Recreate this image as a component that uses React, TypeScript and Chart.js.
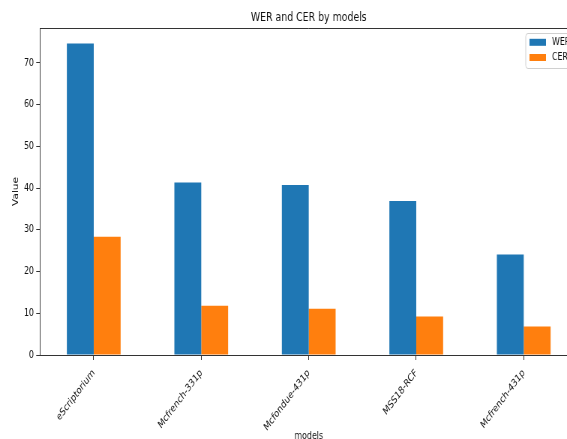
import React, { useEffect, useRef } from "react";
import { Chart, registerables } from "chart.js";

Chart.register(...registerables);

const categories = ["eScriptorium", "Mcfrench-331p", "Mcfondue-431p", "MSS18-RCF", "Mcfrench-431p"];
const werValues = [74.6, 41.3, 40.7, 36.9, 24.1];
const cerValues = [28.3, 11.8, 11.1, 9.2, 6.8];
const yTicks = [0, 10, 20, 30, 40, 50, 60, 70];
const yMax = 78.33;
const seriesNames = ["WER", "CER"];
const seriesColors = ["#1f77b4", "#ff7f0e"];
const titleText = "WER and CER by models";
const xLabel = "models";
const yLabel = "Value";

const SX = 0.75; // horizontal squash of the reference image
const W = 800;
const H = 439;
const FONT = '"DejaVu Sans", sans-serif';

const decorPlugin = {
  id: "decor",
  afterDraw(chart: any) {
    const { ctx, chartArea } = chart;
    const { left, right, top, bottom } = chartArea;
    ctx.save();
    ctx.strokeStyle = "#333";
    ctx.lineWidth = 1;
    ctx.beginPath();
    ctx.moveTo(left, top + 0.5);
    ctx.lineTo(right, top + 0.5);
    ctx.moveTo(right - 0.5, top);
    ctx.lineTo(right - 0.5, bottom);
    ctx.stroke();
    ctx.fillStyle = "#111";
    ctx.font = `12.5px ${FONT}`;
    ctx.textAlign = "center";
    ctx.textBaseline = "middle";
    ctx.fillText(titleText, (left + right) / 2, 18);
    ctx.font = `10.5px ${FONT}`;
    ctx.fillText(xLabel, (left + right) / 2, 436);
    ctx.save();
    ctx.translate(21, (top + bottom) / 2);
    ctx.rotate(-Math.PI / 2);
    ctx.fillText(yLabel, 0, 0);
    ctx.restore();
    const lx = 701;
    const ly = 33.5;
    const lw = 72;
    const lh = 35;
    const r = 3;
    ctx.beginPath();
    ctx.moveTo(lx + r, ly);
    ctx.lineTo(lx + lw - r, ly);
    ctx.quadraticCurveTo(lx + lw, ly, lx + lw, ly + r);
    ctx.lineTo(lx + lw, ly + lh - r);
    ctx.quadraticCurveTo(lx + lw, ly + lh, lx + lw - r, ly + lh);
    ctx.lineTo(lx + r, ly + lh);
    ctx.quadraticCurveTo(lx, ly + lh, lx, ly + lh - r);
    ctx.lineTo(lx, ly + r);
    ctx.quadraticCurveTo(lx, ly, lx + r, ly);
    ctx.closePath();
    ctx.fillStyle = "rgba(255,255,255,0.8)";
    ctx.fill();
    ctx.strokeStyle = "#d0d0d0";
    ctx.lineWidth = 1;
    ctx.stroke();
    const rows = [42.3, 57.5];
    seriesNames.forEach((name, i) => {
      ctx.fillStyle = seriesColors[i];
      ctx.fillRect(706, rows[i] - 3.5, 22, 7);
      ctx.fillStyle = "#111";
      ctx.font = `10.5px ${FONT}`;
      ctx.textAlign = "left";
      ctx.textBaseline = "middle";
      ctx.fillText(name, 736, rows[i]);
    });
    ctx.restore();
  },
};

export default function App() {
  const ref = useRef<HTMLCanvasElement | null>(null);
  useEffect(() => {
    if (!ref.current) return;
    const chart = new Chart(ref.current, {
      type: "bar",
      data: {
        labels: categories,
        datasets: [
          { label: seriesNames[0], data: werValues, backgroundColor: seriesColors[0], borderWidth: 0 },
          { label: seriesNames[1], data: cerValues, backgroundColor: seriesColors[1], borderWidth: 0 },
        ],
      },
      options: {
        responsive: false,
        animation: false,
        devicePixelRatio: 1,
        datasets: { bar: { categoryPercentage: 0.5, barPercentage: 1.0 } },
        layout: { padding: { top: 28, left: 0, right: W - 770, bottom: 0 } },
        plugins: { legend: { display: false }, title: { display: false }, tooltip: { enabled: false } },
        scales: {
          x: {
            offset: true,
            grid: { display: true, drawOnChartArea: false, drawTicks: true, tickLength: 5, color: "#333", offset: false },
            border: { display: true, color: "#333", width: 1 },
            ticks: {
              color: "#111",
              font: { family: FONT, size: 10.5 },
              minRotation: 45,
              maxRotation: 45,
              padding: 7,
              autoSkip: false,
            },
            afterFit: (s: any) => {
              s.height = H - 355;
            },
          },
          y: {
            min: 0,
            max: yMax,
            grid: { display: true, drawOnChartArea: false, drawTicks: true, tickLength: 5, color: "#333" },
            border: { display: true, color: "#333", width: 1 },
            ticks: { color: "#111", font: { family: FONT, size: 10.5 }, padding: 3 },
            afterBuildTicks: (s: any) => {
              s.ticks = yTicks.map((v) => ({ value: v }));
            },
            afterFit: (s: any) => {
              s.width = 53.3;
            },
          },
        },
      },
      plugins: [decorPlugin],
    });
    return () => chart.destroy();
  }, []);
  return (
    <div style={{ position: "fixed", left: 0, top: 0, width: 567, height: 439, overflow: "hidden", background: "#fff" }}>
      <canvas
        ref={ref}
        width={W}
        height={H}
        style={{ width: W, height: H, transform: `scaleX(${SX})`, transformOrigin: "0 0", display: "block" }}
      />
    </div>
  );
}
